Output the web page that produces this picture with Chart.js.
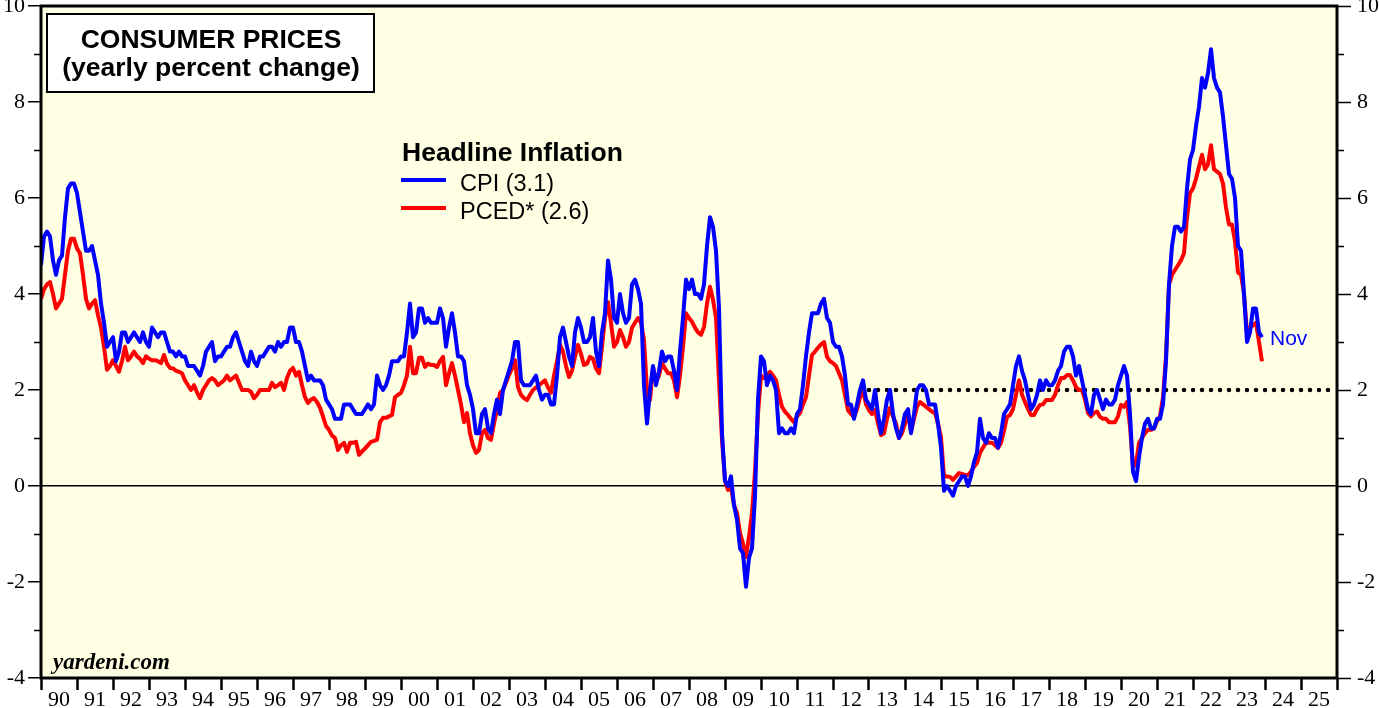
<!DOCTYPE html>
<html>
<head>
<meta charset="utf-8">
<script src="https://cdn.jsdelivr.net/npm/chart.js@4.4.1/dist/chart.umd.min.js"></script>
<style>
  html, body { margin: 0; padding: 0; background: #fff; }
  #wrap { width: 1379px; height: 708px; }
</style>
</head>
<body>
<div id="wrap"><canvas id="myChart" width="1379" height="708"></canvas></div>
<script>
// monthly yearly % change, Dec 1989 .. Nov 2023 (plotted at month end)
var cpi = [
    4.6,
    5.2, 5.3, 5.2, 4.7, 4.4, 4.7, 4.8, 5.6, 6.2, 6.3, 6.3, 6.1,   // 1990
    5.7, 5.3, 4.9, 4.9, 5.0, 4.7, 4.4, 3.8, 3.4, 2.9, 3.0, 3.1,   // 1991
    2.6, 2.8, 3.2, 3.2, 3.0, 3.1, 3.2, 3.1, 3.0, 3.2, 3.0, 2.9,   // 1992
    3.3, 3.2, 3.1, 3.2, 3.2, 3.0, 2.8, 2.8, 2.7, 2.8, 2.7, 2.7,   // 1993
    2.5, 2.5, 2.5, 2.4, 2.3, 2.5, 2.8, 2.9, 3.0, 2.6, 2.7, 2.7,   // 1994
    2.8, 2.9, 2.9, 3.1, 3.2, 3.0, 2.8, 2.6, 2.5, 2.8, 2.6, 2.5,   // 1995
    2.7, 2.7, 2.8, 2.9, 2.9, 2.8, 3.0, 2.9, 3.0, 3.0, 3.3, 3.3,   // 1996
    3.0, 3.0, 2.8, 2.5, 2.2, 2.3, 2.2, 2.2, 2.2, 2.1, 1.8, 1.7,   // 1997
    1.6, 1.4, 1.4, 1.4, 1.7, 1.7, 1.7, 1.6, 1.5, 1.5, 1.5, 1.6,   // 1998
    1.7, 1.6, 1.7, 2.3, 2.1, 2.0, 2.1, 2.3, 2.6, 2.6, 2.6, 2.7,   // 1999
    2.7, 3.2, 3.8, 3.1, 3.2, 3.7, 3.7, 3.4, 3.5, 3.4, 3.4, 3.4,   // 2000
    3.7, 3.5, 2.9, 3.3, 3.6, 3.2, 2.7, 2.7, 2.6, 2.1, 1.9, 1.6,   // 2001
    1.1, 1.1, 1.5, 1.6, 1.2, 1.1, 1.5, 1.8, 1.5, 2.0, 2.2, 2.4,   // 2002
    2.6, 3.0, 3.0, 2.2, 2.1, 2.1, 2.1, 2.2, 2.3, 2.0, 1.8, 1.9,   // 2003
    1.9, 1.7, 1.7, 2.3, 3.1, 3.3, 3.0, 2.7, 2.5, 3.2, 3.5, 3.3,   // 2004
    3.0, 3.0, 3.1, 3.5, 2.8, 2.5, 3.2, 3.6, 4.7, 4.3, 3.5, 3.4,   // 2005
    4.0, 3.6, 3.4, 3.5, 4.2, 4.3, 4.1, 3.8, 2.1, 1.3, 2.0, 2.5,   // 2006
    2.1, 2.4, 2.8, 2.6, 2.7, 2.7, 2.4, 2.0, 2.8, 3.5, 4.3, 4.1,   // 2007
    4.3, 4.0, 4.0, 3.9, 4.2, 5.0, 5.6, 5.4, 4.9, 3.7, 1.1, 0.1,   // 2008
    0.0, 0.2, -0.4, -0.7, -1.3, -1.4, -2.1, -1.5, -1.3, -0.2, 1.8, 2.7, // 2009
    2.6, 2.1, 2.3, 2.2, 2.0, 1.1, 1.2, 1.1, 1.1, 1.2, 1.1, 1.5,   // 2010
    1.6, 2.1, 2.7, 3.2, 3.6, 3.6, 3.6, 3.8, 3.9, 3.5, 3.4, 3.0,   // 2011
    2.9, 2.9, 2.7, 2.3, 1.7, 1.7, 1.4, 1.7, 2.0, 2.2, 1.8, 1.7,   // 2012
    1.6, 2.0, 1.5, 1.1, 1.4, 1.8, 2.0, 1.5, 1.2, 1.0, 1.2, 1.5,   // 2013
    1.6, 1.1, 1.5, 2.0, 2.1, 2.1, 2.0, 1.7, 1.7, 1.7, 1.3, 0.8,   // 2014
    -0.1, 0.0, -0.1, -0.2, 0.0, 0.1, 0.2, 0.2, 0.0, 0.2, 0.5, 0.7, // 2015
    1.4, 1.0, 0.9, 1.1, 1.0, 1.0, 0.8, 1.1, 1.5, 1.6, 1.7, 2.1,   // 2016
    2.5, 2.7, 2.4, 2.2, 1.9, 1.6, 1.7, 1.9, 2.2, 2.0, 2.2, 2.1,   // 2017
    2.1, 2.2, 2.4, 2.5, 2.8, 2.9, 2.9, 2.7, 2.3, 2.5, 2.2, 1.9,   // 2018
    1.6, 1.5, 1.9, 2.0, 1.8, 1.6, 1.8, 1.7, 1.7, 1.8, 2.1, 2.3,   // 2019
    2.5, 2.3, 1.5, 0.3, 0.1, 0.6, 1.0, 1.3, 1.4, 1.2, 1.2, 1.4,   // 2020
    1.4, 1.7, 2.6, 4.2, 5.0, 5.4, 5.4, 5.3, 5.4, 6.2, 6.8, 7.0,   // 2021
    7.5, 7.9, 8.5, 8.3, 8.6, 9.1, 8.5, 8.3, 8.2, 7.7, 7.1, 6.5,   // 2022
    6.4, 6.0, 5.0, 4.9, 4.0, 3.0, 3.2, 3.7, 3.7, 3.2, 3.1         // 2023
];

var pced = [
    3.9,
    4.1, 4.2, 4.25, 4.0, 3.7, 3.8, 3.9, 4.4, 4.9, 5.15, 5.15, 4.95, // 1990
    4.85, 4.4, 3.9, 3.7, 3.8, 3.87, 3.56, 3.3, 2.9, 2.42, 2.5, 2.62, // 1991
    2.5, 2.38, 2.6, 2.9, 2.62, 2.7, 2.8, 2.7, 2.65, 2.56, 2.7, 2.65, // 1992
    2.62, 2.62, 2.6, 2.56, 2.73, 2.55, 2.46, 2.45, 2.4, 2.38, 2.35, 2.2, // 1993
    2.1, 2.0, 2.1, 1.95, 1.83, 2.0, 2.1, 2.2, 2.25, 2.2, 2.1, 2.15, // 1994
    2.2, 2.3, 2.2, 2.25, 2.3, 2.15, 2.0, 2.0, 2.0, 1.96, 1.83, 1.9, // 1995
    2.0, 2.0, 2.0, 2.0, 2.15, 2.06, 2.1, 2.15, 2.0, 2.25, 2.4, 2.46, // 1996
    2.3, 2.38, 2.1, 1.85, 1.73, 1.8, 1.83, 1.75, 1.63, 1.45, 1.25, 1.17, // 1997
    1.05, 1.0, 0.75, 0.85, 0.9, 0.71, 0.9, 0.9, 0.92, 0.65, 0.72, 0.78, // 1998
    0.85, 0.92, 0.94, 0.96, 1.33, 1.42, 1.42, 1.45, 1.48, 1.85, 1.9, 1.94, // 1999
    2.1, 2.3, 2.9, 2.35, 2.35, 2.67, 2.67, 2.48, 2.55, 2.52, 2.52, 2.48, // 2000
    2.6, 2.69, 2.1, 2.35, 2.56, 2.3, 2.0, 1.7, 1.33, 1.52, 1.1, 0.85, // 2001
    0.69, 0.75, 1.1, 1.17, 1.0, 0.96, 1.3, 1.6, 1.94, 2.0, 2.15, 2.31, // 2002
    2.45, 2.62, 2.06, 1.9, 1.83, 1.79, 1.9, 2.0, 2.05, 2.1, 2.15, 2.2, // 2003
    2.05, 1.94, 2.3, 2.6, 2.94, 2.8, 2.5, 2.27, 2.4, 2.7, 2.94, 2.75, // 2004
    2.52, 2.55, 2.69, 2.65, 2.45, 2.35, 2.9, 3.5, 3.83, 3.4, 2.9, 3.0, // 2005
    3.25, 3.1, 2.9, 3.0, 3.3, 3.4, 3.5, 3.4, 3.04, 2.0, 1.79, 2.48, // 2006
    2.17, 2.3, 2.56, 2.45, 2.35, 2.35, 2.2, 1.85, 2.3, 2.9, 3.6, 3.5, // 2007
    3.42, 3.3, 3.2, 3.15, 3.31, 3.8, 4.15, 3.88, 3.5, 2.2, 0.96, 0.1, // 2008
    -0.08, -0.02, -0.4, -0.56, -0.98, -1.2, -1.48, -1.06, -0.56, 0.3, 1.5, 2.3, // 2009
    2.25, 2.3, 2.38, 2.3, 2.2, 1.9, 1.65, 1.55, 1.48, 1.4, 1.33, 1.45, // 2010
    1.52, 1.7, 1.85, 2.3, 2.73, 2.8, 2.88, 2.95, 3.0, 2.69, 2.6, 2.56, // 2011
    2.5, 2.35, 2.2, 1.9, 1.58, 1.5, 1.44, 1.6, 1.85, 2.0, 1.7, 1.58, // 2012
    1.5, 1.58, 1.3, 1.06, 1.1, 1.4, 1.63, 1.45, 1.3, 1.0, 1.1, 1.3, // 2013
    1.52, 1.13, 1.4, 1.65, 1.75, 1.7, 1.65, 1.6, 1.55, 1.52, 1.3, 1.02, // 2014
    0.19, 0.2, 0.19, 0.13, 0.2, 0.27, 0.25, 0.23, 0.23, 0.3, 0.4, 0.48, // 2015
    0.69, 0.8, 0.9, 0.9, 0.9, 0.85, 0.79, 0.9, 1.15, 1.44, 1.48, 1.6, // 2016
    1.9, 2.2, 1.9, 1.75, 1.6, 1.48, 1.48, 1.6, 1.69, 1.7, 1.79, 1.79, // 2017
    1.79, 1.9, 2.1, 2.25, 2.25, 2.31, 2.31, 2.2, 2.06, 2.0, 2.0, 1.8, // 2018
    1.52, 1.45, 1.52, 1.55, 1.44, 1.4, 1.4, 1.33, 1.33, 1.33, 1.45, 1.69, // 2019
    1.65, 1.75, 1.25, 0.4, 0.45, 0.9, 1.0, 1.1, 1.17, 1.17, 1.2, 1.35, // 2020
    1.45, 1.85, 2.7, 4.2, 4.4, 4.5, 4.6, 4.7, 4.85, 5.6, 6.1, 6.2, // 2021
    6.4, 6.65, 6.9, 6.6, 6.7, 7.1, 6.6, 6.55, 6.5, 6.3, 5.8, 5.45, // 2022
    5.45, 5.1, 4.45, 4.4, 4.0, 3.2, 3.3, 3.35, 3.4, 3.0, 2.6       // 2023
];

var firstYear = 1990;
var lastYear = 2026;
var yearLabels = ['90','91','92','93','94','95','96','97','98','99','00','01','02','03','04','05','06','07','08','09',
                  '10','11','12','13','14','15','16','17','18','19','20','21','22','23','24','25'];
var yMin = -4, yMax = 10;
var target = 2, targetFrom = 2013, targetTo = 2026;

function toPoints(arr) {
    return arr.map(function(v, i) { return { x: firstYear + i / 12, y: v }; });
}

var plotBg = '#FFFFE3';

var decor = {
    id: 'decor',
    beforeDraw: function(chart) {
        var a = chart.chartArea, ctx = chart.ctx;
        ctx.save();
        ctx.fillStyle = '#ffffff';
        ctx.fillRect(0, 0, chart.width, chart.height);
        ctx.fillStyle = plotBg;
        ctx.fillRect(a.left, a.top, a.right - a.left, a.bottom - a.top);
        ctx.restore();
    },
    afterDraw: function(chart) {
        var a = chart.chartArea, ctx = chart.ctx;
        var ys = chart.scales.y;
        ctx.save();
        // minor ticks (odd values)
        ctx.strokeStyle = '#000';
        ctx.lineWidth = 1.5;
        for (var v = yMin + 1; v < yMax; v += 2) {
            var py = Math.round(ys.getPixelForValue(v)) + 0.5;
            ctx.beginPath();
            ctx.moveTo(a.left - 7, py); ctx.lineTo(a.left, py);
            ctx.moveTo(a.right, py); ctx.lineTo(a.right + 7, py);
            ctx.stroke();
        }
        // frame
        ctx.lineWidth = 3;
        ctx.strokeRect(a.left, a.top, a.right - a.left, a.bottom - a.top);

        // title box
        ctx.fillStyle = '#fff';
        ctx.fillRect(47, 14, 327, 78);
        ctx.lineWidth = 2;
        ctx.strokeRect(47, 14, 327, 78);
        ctx.fillStyle = '#000';
        ctx.textAlign = 'center';
        ctx.textBaseline = 'alphabetic';
        ctx.font = 'bold 26.5px "Liberation Sans", Arial, sans-serif';
        ctx.fillText('CONSUMER PRICES', 211, 48);
        ctx.fillText('(yearly percent change)', 211, 76);

        // legend
        ctx.textAlign = 'left';
        ctx.font = 'bold 26.5px "Liberation Sans", Arial, sans-serif';
        ctx.fillText('Headline Inflation', 402, 161);
        ctx.lineWidth = 4;
        ctx.strokeStyle = '#0000ff';
        ctx.beginPath(); ctx.moveTo(401, 180); ctx.lineTo(446, 180); ctx.stroke();
        ctx.strokeStyle = '#ff0000';
        ctx.beginPath(); ctx.moveTo(401, 208); ctx.lineTo(446, 208); ctx.stroke();
        ctx.font = '23.5px "Liberation Sans", Arial, sans-serif';
        ctx.fillText('CPI (3.1)', 460, 191);
        ctx.fillText('PCED* (2.6)', 460, 219);

        // last month marker
        ctx.fillStyle = '#0000ff';
        ctx.font = '21px "Liberation Sans", Arial, sans-serif';
        ctx.fillText('Nov', 1270, 345);

        // source
        ctx.fillStyle = '#000';
        ctx.font = 'italic bold 23px "Liberation Serif", "Times New Roman", serif';
        ctx.fillText('yardeni.com', 53, 669);
        ctx.restore();
    }
};

var tickFont = { family: '"Liberation Serif", "Times New Roman", serif', size: 22 };

function yTicks(scale) {
    var t = [];
    for (var v = yMin; v <= yMax; v++) t.push({ value: v });
    scale.ticks = t;
}

var myChart = new Chart(document.getElementById('myChart'), {
    type: 'line',
    data: {
        datasets: [
            {
                label: 'CPI',
                data: toPoints(cpi),
                borderColor: '#0000ff',
                borderWidth: 4,
                pointRadius: 0,
                tension: 0,
                borderJoinStyle: 'round'
            },
            {
                label: 'PCED*',
                data: toPoints(pced),
                borderColor: '#ff0000',
                borderWidth: 4,
                pointRadius: 0,
                tension: 0,
                borderJoinStyle: 'round'
            },
            {
                label: 'target',
                data: [{ x: targetFrom, y: target }, { x: targetTo, y: target }],
                borderColor: '#000',
                borderWidth: 4.5,
                borderDash: [0, 9],
                borderCapStyle: 'round',
                pointRadius: 0
            }
        ]
    },
    options: {
        responsive: false,
        animation: false,
        devicePixelRatio: 1,
        layout: { padding: { top: 6, left: 0, right: 0, bottom: 0 } },
        plugins: {
            legend: { display: false },
            tooltip: { enabled: false }
        },
        scales: {
            x: {
                type: 'linear',
                min: firstYear,
                max: lastYear,
                afterBuildTicks: function(scale) {
                    var t = [];
                    for (var yr = firstYear; yr <= lastYear; yr++) t.push({ value: yr });
                    scale.ticks = t;
                },
                afterFit: function(scale) {
                    scale.height = 30;
                    scale.paddingLeft = 0;
                    scale.paddingRight = 0;
                },
                border: { display: false },
                grid: {
                    drawOnChartArea: false,
                    tickLength: 12,
                    tickWidth: 2.5,
                    tickColor: '#000'
                },
                ticks: {
                    autoSkip: false,
                    maxRotation: 0,
                    labelOffset: 18,
                    padding: -3,
                    color: '#000',
                    font: tickFont,
                    callback: function(value, index) {
                        return yearLabels[index] !== undefined ? yearLabels[index] : '';
                    }
                }
            },
            y: {
                position: 'left',
                min: yMin,
                max: yMax,
                afterBuildTicks: yTicks,
                afterFit: function(scale) {
                    scale.width = 41;
                    scale.paddingTop = 0;
                    scale.paddingBottom = 0;
                },
                border: { display: false },
                grid: {
                    color: function(c) { return c.tick && c.tick.value === 0 ? '#000' : 'rgba(0,0,0,0)'; },
                    lineWidth: 1.5,
                    tickLength: 13,
                    tickWidth: 1.5,
                    tickColor: function(c) { return c.tick && c.tick.value % 2 === 0 ? '#000' : 'rgba(0,0,0,0)'; }
                },
                ticks: {
                    padding: 3,
                    color: '#000',
                    font: tickFont,
                    callback: function(value) { return value % 2 === 0 ? String(value) : ''; }
                }
            },
            y2: {
                position: 'right',
                min: yMin,
                max: yMax,
                afterBuildTicks: yTicks,
                afterFit: function(scale) {
                    scale.width = 42;
                    scale.paddingTop = 0;
                    scale.paddingBottom = 0;
                },
                border: { display: false },
                grid: {
                    drawOnChartArea: false,
                    tickLength: 14,
                    tickWidth: 1.5,
                    tickColor: function(c) { return c.tick && c.tick.value % 2 === 0 ? '#000' : 'rgba(0,0,0,0)'; }
                },
                ticks: {
                    padding: 6,
                    color: '#000',
                    font: tickFont,
                    callback: function(value) { return value % 2 === 0 ? String(value) : ''; }
                }
            }
        }
    },
    plugins: [decor]
});
</script>
</body>
</html>
